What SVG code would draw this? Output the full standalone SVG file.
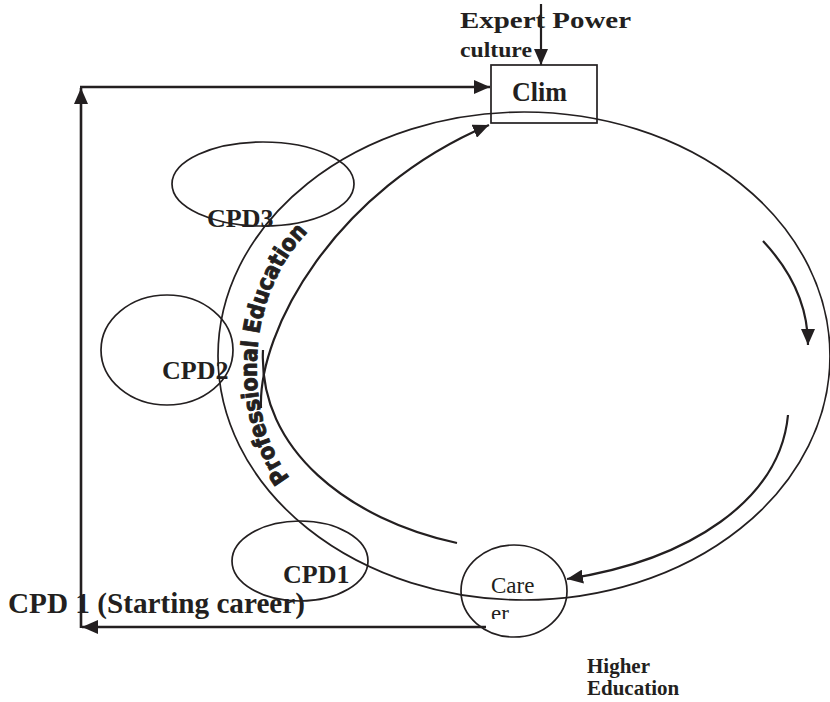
<svg xmlns="http://www.w3.org/2000/svg" width="830" height="702" viewBox="0 0 830 702">
  <style>
    .lbl { font-family: "Liberation Serif", "Times New Roman", serif; font-weight: bold; fill: #231f20; }
    .reg { font-family: "Liberation Serif", "Times New Roman", serif; fill: #231f20; }
    .ring { fill: none; stroke: #231f20; stroke-width: 1.7; }
    .conn { fill: none; stroke: #231f20; stroke-width: 2.6; }
    .arc { fill: none; stroke: #231f20; stroke-width: 2.2; }
    .band { font-family: "DejaVu Sans", "Liberation Sans", sans-serif; font-weight: bold; fill: #231f20; stroke: #231f20; stroke-width: 0.9; }
  </style>
  <defs>
    <marker id="ah" viewBox="0 0 16 14" refX="16" refY="7" markerWidth="16" markerHeight="14" markerUnits="userSpaceOnUse" orient="auto">
      <path d="M0,0 L16,7 L0,14 z" fill="#231f20"/>
    </marker>
    <clipPath id="careerClip">
      <rect x="440" y="570" width="140" height="49"/>
    </clipPath>
    <path id="bandPath" d="M290,478 C245,420 240,300 310,230"/>
  </defs>

  <rect width="830" height="702" fill="#ffffff"/>

  <!-- main cycle -->
  <g id="cycle">
    <ellipse class="ring" cx="524" cy="356" rx="306" ry="244"/>
  </g>

  <!-- connectors -->
  <g id="connectors">
    <path class="conn" d="M486,627 H82" marker-end="url(#ah)"/>
    <path class="conn" d="M81,628 V88" marker-end="url(#ah)"/>
    <path class="conn" d="M80,87 H490" marker-end="url(#ah)"/>
    <path class="arc" d="M541,4 V65" marker-end="url(#ah)"/>
    <path class="arc" d="M261,408 C258,330 335,190 489,125" marker-end="url(#ah)"/>
    <path class="arc" d="M457,543 C350,520 258,450 263,350"/>
    <path class="arc" d="M763,241 C792,272 808,305 808,345" marker-end="url(#ah)"/>
    <path class="arc" d="M788,415 C780,500 690,560 567,579" marker-end="url(#ah)"/>
  </g>

  <!-- curved band label -->
  <g id="professional-education">
    <text class="band" font-size="23">
      <textPath href="#bandPath" textLength="266" lengthAdjust="spacingAndGlyphs">Professional Education</textPath>
    </text>
  </g>

  <g id="clim">
    <rect x="491" y="65" width="106" height="58" fill="none" stroke="#231f20" stroke-width="1.7"/>
    <text class="lbl" x="512" y="101" font-size="28" textLength="55" lengthAdjust="spacingAndGlyphs">Clim</text>
  </g>

  <g id="expert-power">
    <text class="lbl" x="460" y="28" font-size="23" textLength="171" lengthAdjust="spacingAndGlyphs">Expert Power</text>
    <text class="lbl" x="460" y="57" font-size="21" textLength="72" lengthAdjust="spacingAndGlyphs">culture</text>
  </g>

  <g id="cpd3">
    <ellipse class="ring" cx="263" cy="184" rx="91" ry="42"/>
    <text class="lbl" x="207" y="227" font-size="26">CPD3</text>
  </g>

  <g id="cpd2">
    <ellipse class="ring" cx="167" cy="350" rx="66" ry="55"/>
    <text class="lbl" x="162" y="379" font-size="26">CPD2</text>
  </g>

  <g id="cpd1">
    <ellipse class="ring" cx="300" cy="561" rx="68" ry="40"/>
    <text class="lbl" x="283" y="583" font-size="26">CPD1</text>
  </g>

  <g id="career">
    <ellipse class="ring" cx="514" cy="591" rx="53" ry="46"/>
    <text class="reg" x="491" y="593" font-size="23">Care</text>
    <text class="reg" x="491" y="621" font-size="23" clip-path="url(#careerClip)">er</text>
  </g>

  <g id="starting-career">
    <text class="lbl" x="8" y="613" font-size="30" textLength="297" lengthAdjust="spacingAndGlyphs">CPD 1 (Starting career)</text>
  </g>

  <g id="higher-education">
    <text class="lbl" x="587" y="673" font-size="21">Higher</text>
    <text class="lbl" x="587" y="695" font-size="21">Education</text>
  </g>
</svg>
